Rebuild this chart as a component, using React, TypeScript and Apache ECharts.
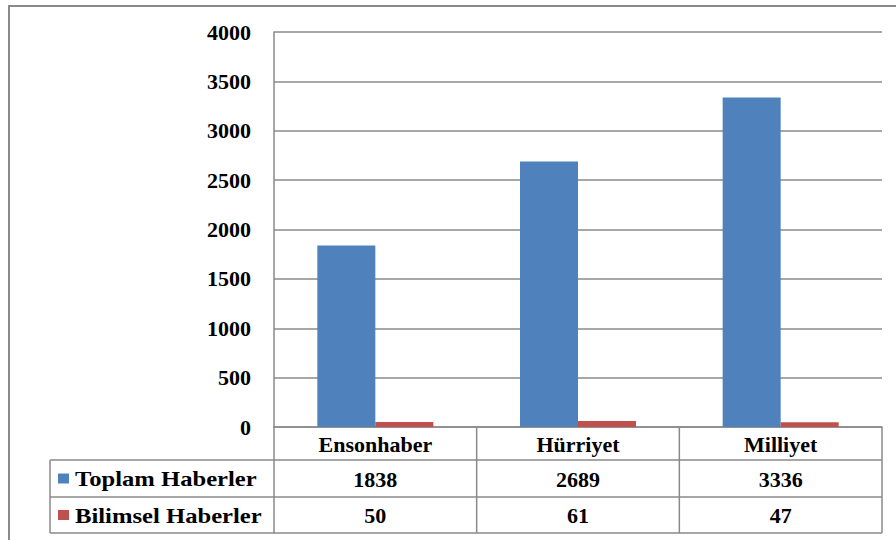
import React, { useEffect, useRef } from "react";
import * as echarts from "echarts";

const categories = ["Ensonhaber", "Hürriyet", "Milliyet"];
const seriesNames = ["Toplam Haberler", "Bilimsel Haberler"];
const toplam = [1838, 2689, 3336];
const bilimsel = [50, 61, 47];
const colors = ["#4F81BD", "#C0504D"];

const FONT = "'Liberation Serif', 'Times New Roman', serif";
const LINE = "#8a8a8a";
const FS = 22;

export default function App() {
  const ref = useRef<HTMLDivElement>(null);
  useEffect(() => {
    if (!ref.current) return;
    const chart = echarts.init(ref.current, undefined, { renderer: "svg" });
    const gL = 274, gR = 882, gT = 32, gB = 427;
    const rowH = [33, 37, 36];
    const y1 = gB + rowH[0], y2 = y1 + rowH[1], y3 = y2 + rowH[2];
    const legL = 50;
    const colW = (gR - gL) / categories.length;
    const lineStyle = { stroke: LINE, lineWidth: 1.5 };
    const graphics: any[] = [
      { type: "rect", shape: { x: 9, y: 6, width: 900, height: 540 }, style: { fill: "none", stroke: LINE, lineWidth: 2 }, silent: true },
      { type: "line", shape: { x1: gL, y1: gB, x2: gL, y2: y3 }, style: lineStyle },
      { type: "line", shape: { x1: gR, y1: gB, x2: gR, y2: y3 }, style: lineStyle },
      { type: "line", shape: { x1: legL, y1: y1, x2: gR, y2: y1 }, style: lineStyle },
      { type: "line", shape: { x1: legL, y1: y2, x2: gR, y2: y2 }, style: lineStyle },
      { type: "line", shape: { x1: legL, y1: y3, x2: gR, y2: y3 }, style: lineStyle },
      { type: "line", shape: { x1: legL, y1: y1, x2: legL, y2: y3 }, style: lineStyle },
    ];
    for (let i = 1; i < categories.length; i++) {
      const x = gL + colW * i;
      graphics.push({ type: "line", shape: { x1: x, y1: gB, x2: x, y2: y3 }, style: lineStyle });
    }
    seriesNames.forEach((name, i) => {
      const cy = i === 0 ? (y1 + y2) / 2 : (y2 + y3) / 2;
      graphics.push({ type: "rect", shape: { x: 58, y: cy - 5, width: 11, height: 10 }, style: { fill: colors[i] } });
      graphics.push({
        type: "text", x: 75, y: cy, scaleX: 1.12,
        style: { text: name, fontFamily: FONT, fontWeight: "bold", fontSize: FS, fill: "#000", verticalAlign: "middle", align: "left" },
      });
    });

    const labelStyle = { fontFamily: FONT, fontWeight: "bold" as const, fontSize: FS, color: "#000" };
    chart.setOption({
      animation: false,
      backgroundColor: "#fff",
      grid: { left: gL, right: 896 - gR, top: gT, bottom: 540 - gB },
      xAxis: [
        {
          type: "category", data: categories, position: "bottom",
          axisLine: { show: true, lineStyle: { color: LINE, width: 1.5 } },
          axisTick: { show: false },
          axisLabel: { ...labelStyle, margin: 6 },
        },
        {
          type: "category", data: toplam.map(String), position: "bottom", offset: rowH[0],
          axisLine: { show: false }, axisTick: { show: false },
          axisLabel: { ...labelStyle, margin: 8 },
        },
        {
          type: "category", data: bilimsel.map(String), position: "bottom", offset: rowH[0] + rowH[1],
          axisLine: { show: false }, axisTick: { show: false },
          axisLabel: { ...labelStyle, margin: 7 },
        },
      ],
      yAxis: {
        type: "value", min: 0, max: 4000, interval: 500,
        axisLine: { show: true, lineStyle: { color: LINE, width: 1.5 } },
        axisTick: { show: false },
        splitLine: { lineStyle: { color: LINE, width: 1.5 } },
        axisLabel: { ...labelStyle, margin: 23, formatter: (v: number) => String(v) },
      },
      series: [
        { name: seriesNames[0], type: "bar", data: toplam, barWidth: 58, barGap: "0%", itemStyle: { color: colors[0] }, xAxisIndex: 0 },
        { name: seriesNames[1], type: "bar", data: bilimsel, barWidth: 58, barGap: "0%", itemStyle: { color: colors[1] }, xAxisIndex: 0 },
      ],
      graphic: graphics,
    });
    return () => chart.dispose();
  }, []);
  return <div ref={ref} style={{ position: "fixed", left: 0, top: 0, width: 896, height: 540 }} />;
}
